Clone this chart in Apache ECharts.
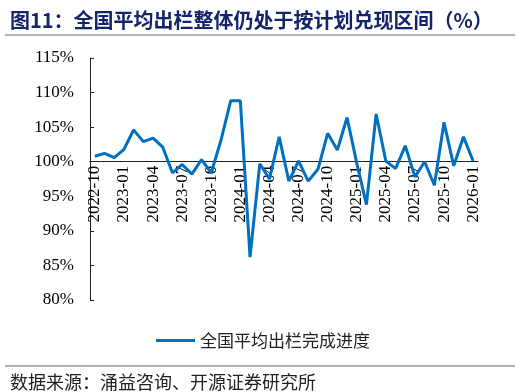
<!DOCTYPE html>
<html>
<head>
<meta charset="utf-8">
<script src="https://cdn.jsdelivr.net/npm/echarts@6/dist/echarts.min.js"></script>
<style>
  html, body { margin: 0; padding: 0; background: #fff; }
  #main { width: 520px; height: 392px; }
</style>
</head>
<body>
<div id="main"></div>
<script>
// 月份
const months = [
  "2022-10", "2022-11", "2022-12", "2023-01", "2023-02", "2023-03", "2023-04", "2023-05",
  "2023-06", "2023-07", "2023-08", "2023-09", "2023-10", "2023-11", "2023-12", "2024-01",
  "2024-02", "2024-03", "2024-04", "2024-05", "2024-06", "2024-07", "2024-08", "2024-09",
  "2024-10", "2024-11", "2024-12", "2025-01", "2025-02", "2025-03", "2025-04", "2025-05",
  "2025-06", "2025-07", "2025-08", "2025-09", "2025-10", "2025-11", "2025-12", "2026-01"
];
// 全国平均出栏完成进度（%）
const progress = [
  100.8, 101.2, 100.6, 101.8, 104.6, 102.9, 103.4, 102.1,
  98.4, 99.6, 98.2, 100.3, 98.4, 103.1, 108.8, 108.8,
  86.2, 99.7, 97.5, 103.6, 97.2, 100.1, 97.2, 98.9,
  104.1, 101.7, 106.4, 99.8, 93.8, 106.9, 100.1, 99.0,
  102.3, 97.8, 100.0, 96.6, 105.7, 99.4, 103.6, 100.1
];
const yMin = 80, yMax = 115, yStep = 5;
const baseLine = 100; // 横轴穿过的位置

const gridTop = 58, gridBottom = 92;
const gridHeight = 392 - gridTop - gridBottom;
// x轴从底部上移到 100% 处
const xOffset = -gridHeight * (baseLine - yMin) / (yMax - yMin);

const chart = echarts.init(document.getElementById("main"));
const serif = "'Liberation Serif', 'Times New Roman', serif";
const cjk = "'Noto Sans CJK SC', sans-serif";

const option = {
  animation: false,
  title: [
    {
      text: "图11：全国平均出栏整体仍处于按计划兑现区间（%）",
      left: 5,
      top: 5,
      textStyle: { fontFamily: cjk, fontSize: 20, fontWeight: "bold", color: "#15236a" },
    },
    {
      text: "数据来源：涌益咨询、开源证券研究所",
      left: 5,
      top: 368,
      textStyle: { fontFamily: cjk, fontSize: 18, fontWeight: "normal", color: "#222" },
    },
  ],
  graphic: [
    { type: "line", shape: { x1: 5, y1: 35, x2: 515, y2: 35 }, style: { stroke: "#999", lineWidth: 1.5 } },
    { type: "line", shape: { x1: 5, y1: 366, x2: 515, y2: 366 }, style: { stroke: "#999", lineWidth: 1.5 } },
  ],
  legend: {
    left: 151,
    top: 327,
    icon: "rect",
    itemWidth: 39,
    itemHeight: 3,
    textStyle: { fontFamily: cjk, fontSize: 17, color: "#222" },
    data: ["全国平均出栏完成进度"],
  },
  grid: { left: 90, right: 42, top: gridTop, bottom: gridBottom },
  xAxis: {
    type: "category",
    data: months,
    boundaryGap: true,
    offset: xOffset,
    axisLine: { lineStyle: { color: "#222", width: 1 } },
    axisTick: { inside: true, length: 5, interval: 2, lineStyle: { color: "#222" } },
    axisLabel: {
      interval: 2,
      rotate: 90,
      margin: 4,
      fontFamily: serif,
      fontSize: 17,
      color: "#000",
    },
  },
  yAxis: {
    type: "value",
    min: yMin,
    max: yMax,
    interval: yStep,
    splitLine: { show: false },
    axisLine: { show: true, lineStyle: { color: "#222", width: 1 } },
    axisTick: { show: true, inside: true, length: 4, lineStyle: { color: "#222" } },
    axisLabel: {
      margin: 16,
      fontFamily: serif,
      fontSize: 17,
      color: "#000",
      formatter: (v) => v + "%",
    },
  },
  series: [
    {
      name: "全国平均出栏完成进度",
      type: "line",
      data: progress,
      symbol: "none",
      lineStyle: { color: "#0070C0", width: 3 },
      itemStyle: { color: "#0070C0" },
    },
  ],
};
chart.setOption(option);
</script>
</body>
</html>
